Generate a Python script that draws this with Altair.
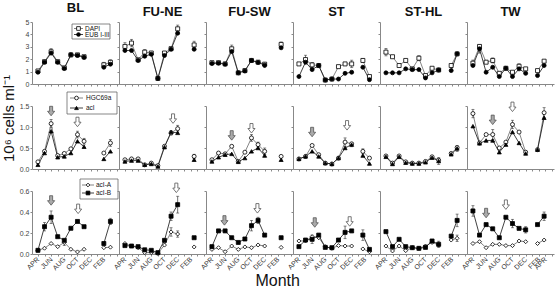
import altair as alt
import pandas as pd

SITES = ["BL", "FU-NE", "FU-SW", "ST", "ST-HL", "TW"]

# sampling month of each point (0 = April)
MONTHS = {
    "BL":    [0, 1, 2, 3, 4, 5, 6, 7, 10, 11],
    "FU-NE": [0, 1, 2, 3, 4, 5, 6, 7, 8, 10.5],
    "FU-SW": [0, 1, 2, 3, 4, 5, 6, 7, 8, 10.5],
    "ST":    [0, 1, 2, 3, 4, 5, 6, 7, 8, 9.7, 10.7],
    "ST-HL": [0, 1, 2, 3, 4, 5, 6, 7, 8, 9.9, 10.8],
    "TW":    [0, 1, 2, 3, 4, 5, 6, 7, 8, 9.8, 10.8],
}
# index of the first point after the winter gap
GAP_AT = {"BL": 8, "FU-NE": 9, "FU-SW": 9, "ST": 9, "ST-HL": 9, "TW": 9}

DAPI = {
    "BL":    [1.05, 1.8, 2.6, 1.8, 1.3, 2.35, 2.35, 2.2, 1.55, 1.75],
    "FU-NE": [3.03, 3.3, 1.95, 2.57, 2.5, 0.45, 2.5, 2.85, 4.45, 3.15],
    "FU-SW": [1.72, 1.72, 1.62, 2.84, 0.9, 1.08, 1.9, 1.76, 1.6, 3.19],
    "ST":    [1.62, 1.97, 1.54, 1.49, 0.32, 0.4, 1.4, 1.62, 1.62, 1.9, 0.6],
    "ST-HL": [2.57, 2.2, 1.49, 1.9, 1.22, 2.08, 0.68, 1.27, 1.13, 1.49, 2.43],
    "TW":    [1.68, 3.03, 1.76, 1.9, 0.86, 1.27, 0.95, 1.43, 1.22, 1.08, 1.84],
}
EUB = {
    "BL":    [0.95, 1.75, 2.5, 1.75, 1.25, 2.35, 2.3, 2.15, 1.35, 1.6],
    "FU-NE": [2.7, 2.7, 1.9, 2.24, 2.4, 0.45, 2.3, 2.8, 4.1, 2.8],
    "FU-SW": [1.65, 1.68, 1.6, 2.62, 0.9, 1.05, 1.9, 1.74, 1.52, 2.92],
    "ST":    [0.6, 1.76, 1.16, 1.49, 0.32, 0.4, 0.4, 0.86, 0.95, 1.35, 0.35],
    "ST-HL": [0.9, 0.9, 0.9, 1.22, 1.16, 1.16, 0.49, 0.9, 1.13, 1.08, 2.43],
    "TW":    [1.49, 2.84, 0.95, 1.35, 0.6, 1.27, 0.6, 1.22, 0.86, 0.68, 1.49],
}
HGC69A = {
    "BL":    [0.17, 0.42, 1.08, 0.32, 0.37, 0.48, 0.82, 0.66, 0.38, 0.62],
    "FU-NE": [0.22, 0.24, 0.24, 0.10, 0.14, 0.08, 0.54, 0.86, 0.96, 0.30],
    "FU-SW": [0.22, 0.38, 0.36, 0.54, 0.18, 0.40, 0.74, 0.58, 0.42, 0.30],
    "ST":    [0.24, 0.30, 0.56, 0.34, 0.14, 0.12, 0.26, 0.64, 0.60, 0.42, 0.26],
    "ST-HL": [0.31, 0.14, 0.31, 0.17, 0.14, 0.14, 0.18, 0.29, 0.21, 0.37, 0.51],
    "TW":    [1.32, 0.62, 0.82, 0.82, 0.50, 0.64, 1.06, 0.88, 0.40, 0.46, 1.34],
}
ACI = {
    "BL":    [0.10, 0.38, 0.90, 0.28, 0.30, 0.38, 0.66, 0.53, 0.24, 0.42],
    "FU-NE": [0.18, 0.20, 0.20, 0.10, 0.12, 0.06, 0.52, 0.88, 0.86, 0.22],
    "FU-SW": [0.18, 0.28, 0.34, 0.36, 0.17, 0.26, 0.42, 0.50, 0.32, 0.22],
    "ST":    [0.24, 0.30, 0.42, 0.30, 0.14, 0.12, 0.26, 0.50, 0.58, 0.32, 0.13],
    "ST-HL": [0.29, 0.12, 0.29, 0.15, 0.13, 0.13, 0.16, 0.27, 0.19, 0.35, 0.49],
    "TW":    [1.02, 0.61, 0.68, 0.68, 0.40, 0.58, 0.88, 0.62, 0.37, 0.46, 1.22],
}
ACI_A = {
    "BL":    [0.035, 0.055, 0.10, 0.07, 0.11, 0.045, 0.02, 0.045, 0.06, 0.065],
    "FU-NE": [0.10, 0.076, 0.06, 0.013, 0.013, 0.006, 0.085, 0.21, 0.19, 0.067],
    "FU-SW": [0.044, 0.06, 0.022, 0.076, 0.044, 0.067, 0.06, 0.086, 0.076, 0.063],
    "ST":    [0.124, 0.124, 0.165, 0.155, 0.07, 0.054, 0.08, 0.076, 0.076, 0.048, 0.022],
    "ST-HL": [0.076, 0.029, 0.076, 0.032, 0.06, 0.054, 0.076, 0.11, 0.086, 0.133, 0.15],
    "TW":    [0.10, 0.117, 0.06, 0.092, 0.092, 0.08, 0.08, 0.124, 0.117, 0.10, 0.133],
}
ACI_B = {
    "BL":    [0.035, 0.26, 0.35, 0.165, 0.13, 0.245, 0.31, 0.26, 0.10, 0.31],
    "FU-NE": [0.08, 0.076, 0.07, 0.04, 0.035, 0.013, 0.13, 0.36, 0.47, 0.155],
    "FU-SW": [0.07, 0.22, 0.22, 0.155, 0.11, 0.143, 0.27, 0.32, 0.18, 0.155],
    "ST":    [0.07, 0.133, 0.14, 0.18, 0.063, 0.06, 0.133, 0.206, 0.22, 0.18, 0.044],
    "ST-HL": [0.213, 0.07, 0.14, 0.07, 0.06, 0.054, 0.063, 0.124, 0.092, 0.17, 0.32],
    "TW":    [0.41, 0.18, 0.28, 0.24, 0.155, 0.35, 0.29, 0.244, 0.23, 0.28, 0.36],
}

# visible error bars: (row, site, series 0=open/1=filled, point index, error)
ERRORS = [
    (0, "BL", 0, 0, 0.12), (0, "BL", 0, 2, 0.25), (0, "BL", 0, 5, 0.15), (0, "BL", 1, 7, 0.15),
    (0, "BL", 0, 8, 0.2), (0, "BL", 0, 9, 0.2),
    (0, "FU-NE", 0, 0, 0.3), (0, "FU-NE", 0, 1, 0.3), (0, "FU-NE", 0, 3, 0.2), (0, "FU-NE", 0, 8, 0.3),
    (0, "FU-NE", 0, 9, 0.3),
    (0, "FU-SW", 0, 3, 0.3), (0, "FU-SW", 1, 8, 0.2), (0, "FU-SW", 0, 9, 0.2),
    (0, "ST", 0, 1, 0.35), (0, "ST", 0, 2, 0.2), (0, "ST", 0, 8, 0.3), (0, "ST", 0, 9, 0.15),
    (0, "ST-HL", 0, 0, 0.3), (0, "ST-HL", 0, 5, 0.2),
    (0, "TW", 1, 1, 0.35), (0, "TW", 0, 0, 0.25), (0, "TW", 0, 3, 0.2), (0, "TW", 0, 7, 0.2),
    (1, "BL", 0, 2, 0.1), (1, "BL", 0, 6, 0.08), (1, "BL", 0, 7, 0.07), (1, "BL", 0, 9, 0.08),
    (1, "FU-NE", 0, 8, 0.08), (1, "FU-NE", 0, 7, 0.05), (1, "FU-NE", 0, 9, 0.05),
    (1, "FU-SW", 0, 6, 0.08), (1, "FU-SW", 0, 8, 0.08), (1, "FU-SW", 0, 7, 0.06),
    (1, "ST", 0, 7, 0.1), (1, "ST", 1, 8, 0.05), (1, "ST", 0, 9, 0.06),
    (1, "ST-HL", 1, 8, 0.08), (1, "ST-HL", 1, 10, 0.07),
    (1, "TW", 0, 0, 0.1), (1, "TW", 0, 3, 0.12), (1, "TW", 0, 10, 0.12), (1, "TW", 0, 6, 0.1),
    (2, "BL", 1, 2, 0.06), (2, "BL", 1, 1, 0.04), (2, "BL", 1, 9, 0.03), (2, "BL", 0, 4, 0.03),
    (2, "FU-NE", 1, 8, 0.08), (2, "FU-NE", 1, 7, 0.04), (2, "FU-NE", 0, 7, 0.04), (2, "FU-NE", 0, 8, 0.03),
    (2, "FU-SW", 1, 6, 0.05), (2, "FU-SW", 1, 7, 0.03),
    (2, "ST", 1, 2, 0.04), (2, "ST", 1, 7, 0.06), (2, "ST", 1, 9, 0.05),
    (2, "ST-HL", 1, 10, 0.06), (2, "ST-HL", 1, 8, 0.03), (2, "ST-HL", 0, 10, 0.03),
    (2, "TW", 1, 0, 0.05), (2, "TW", 1, 6, 0.04), (2, "TW", 1, 10, 0.04), (2, "TW", 1, 8, 0.03),
]

# arrows marking peaks: (row, site, month, value, style)
ARROWS = [
    (1, "BL", 2, 1.38, "gray"), (1, "BL", 6, 1.12, "open"),
    (1, "FU-NE", 7.3, 1.2, "open"),
    (1, "FU-SW", 3, 0.8, "gray"), (1, "FU-SW", 6, 0.97, "open"),
    (1, "ST", 2, 0.88, "gray"), (1, "ST", 7.3, 1.04, "open"),
    (1, "TW", 3, 1.17, "gray"), (1, "TW", 6, 1.48, "open"),
    (2, "BL", 2, 0.51, "gray"), (2, "BL", 6.1, 0.43, "open"),
    (2, "FU-NE", 7.8, 0.63, "open"),
    (2, "FU-SW", 1.9, 0.32, "gray"), (2, "FU-SW", 6.9, 0.435, "open"),
    (2, "ST", 2.4, 0.30, "gray"), (2, "ST", 7.7, 0.31, "open"),
    (2, "TW", 2, 0.39, "gray"), (2, "TW", 5, 0.47, "open"),
]

TICK_MONTHS = [0, 2, 4, 6, 8, 10]
TICK_LABELS = ["APR", "JUN", "AUG", "OCT", "DEC", "FEB"]
TW_EXTRA_TICK = (11, "APR")

ROWS = [
    {"names": ["DAPI", "EUB I-III"], "vals": [DAPI, EUB], "shapes": ["square", "circle"],
     "domain": [0, 5], "ticks": [0, 1, 2, 3, 4, 5], "fmt": "d", "height": 62},
    {"names": ["HGC69a", "acI"], "vals": [HGC69A, ACI], "shapes": ["circle", "triangle-up"],
     "domain": [0, 1.5], "ticks": [0, 0.5, 1.0, 1.5], "fmt": ".1f", "height": 63},
    {"names": ["acI-A", "acI-B"], "vals": [ACI_A, ACI_B], "shapes": ["diamond", "square"],
     "domain": [0, 0.6], "ticks": [0, 0.2, 0.4, 0.6], "fmt": ".1f", "height": 63},
]
# legend box layout inside the first column (pixels from the panel's top-left):
# box x0, x1, y0, y1, entry rows y, line x0, line x1, text x
LEGEND_BOX = [
    (40, 78, 2, 17, [6.5, 12.5], 42, 51, 53),
    (35, 85, -14, 8, [-8, 2], 38, 51, 54),
    (48, 86, -12, 8, [-6, 2], 50, 62, 64),
]

ARROW_PATH = "M-0.32,-1L0.32,-1L0.32,0.05L0.75,0.05L0,1L-0.75,0.05L-0.32,0.05Z"
FONT = "Liberation Sans"
PANEL_W = 87
ERR = {(r, s, k, i): e for r, s, k, i, e in ERRORS}


def legend_layers(r):
    spec = ROWS[r]
    bx0, bx1, by0, by1, rows_y, lx0, lx1, tx = LEGEND_BOX[r]
    one = alt.Chart(pd.DataFrame({"k": [0]}))
    out = [one.mark_rect(fill="white", stroke="#555", strokeWidth=0.7).encode(
        x=alt.value(bx0), x2=alt.value(bx1), y=alt.value(by0), y2=alt.value(by1))]
    strokes = ["#666", "#111"]
    fills = ["white", "black"]
    for k in range(2):
        yy = rows_y[k]
        out.append(one.mark_rule(strokeWidth=0.8, color=strokes[k]).encode(
            x=alt.value(lx0), x2=alt.value(lx1), y=alt.value(yy)))
        out.append(one.mark_point(shape=spec["shapes"][k], size=14, filled=True, fill=fills[k],
                                  stroke="black", strokeWidth=0.8, opacity=1).encode(
            x=alt.value((lx0 + lx1) / 2), y=alt.value(yy)))
        out.append(one.mark_text(align="left", baseline="middle", fontSize=6.5, font=FONT).encode(
            x=alt.value(tx), y=alt.value(yy), text=alt.value(spec["names"][k]),
            color=alt.value("#111")))
    return out


def make_panel(r, c):
    site = SITES[c]
    spec = ROWS[r]
    names = spec["names"]
    recs = []
    for k in range(2):
        for i, (m, v) in enumerate(zip(MONTHS[site], spec["vals"][k][site])):
            e = ERR.get((r, site, k, i), 0.0)
            recs.append({"month": m, "value": v, "series": names[k],
                         "seg": f"{k}-{int(i >= GAP_AT[site])}",
                         "lo": v - e, "hi": v + e, "err": e})
    df = pd.DataFrame(recs)

    labmap = dict(zip(TICK_MONTHS, TICK_LABELS))
    if site == "TW":
        labmap[TW_EXTRA_TICK[0]] = TW_EXTRA_TICK[1]
    arr = "[" + ",".join("'" + labmap.get(i, "") + "'" for i in range(13)) + "]"
    xaxis = alt.Axis(values=list(range(13)), labels=(r == 2), labelExpr=arr + "[datum.value]",
                     labelAngle=-45, labelAlign="right", labelBaseline="middle",
                     labelFontSize=7, labelColor="#333", labelPadding=2,
                     labelOverlap=False, labelBound=False, labelFlush=False,
                     tickSize=2, tickColor="#888", domainColor="#888", grid=False, title=None)
    ytitle = "10\u2076 cells ml\u207b\u00b9" if (r == 1 and c == 0) else None
    yaxis = alt.Axis(values=spec["ticks"], format=spec["fmt"], labels=(c == 0),
                     labelFontSize=7, labelColor="#444", labelPadding=1,
                     tickSize=2, tickColor="#888", domainColor="#888", grid=False,
                     title=ytitle, titleFontSize=15, titleFontWeight="normal",
                     titleColor="#111", titleY=12, titlePadding=3)
    xs = alt.Scale(domain=[-0.9, 12.3], nice=False, zero=False)
    ys = alt.Scale(domain=spec["domain"], nice=False, zero=False)
    x = alt.X("month:Q", scale=xs, axis=xaxis)

    base = alt.Chart(df)
    lines = base.mark_line(strokeWidth=0.8).encode(
        x=x, y=alt.Y("value:Q", scale=ys, axis=yaxis), detail="seg:N",
        stroke=alt.Stroke("series:N", scale=alt.Scale(domain=names, range=["#666", "#111"]), legend=None))
    ebase = base.transform_filter("datum.err > 0")
    errs = ebase.mark_rule(strokeWidth=0.7, color="#333").encode(
        x=x, y=alt.Y("lo:Q", scale=ys, axis=yaxis), y2="hi:Q")
    cap_hi = ebase.mark_tick(orient="horizontal", size=3, thickness=0.8, color="#333").encode(
        x=x, y=alt.Y("hi:Q", scale=ys, axis=yaxis))
    cap_lo = ebase.mark_tick(orient="horizontal", size=3, thickness=0.8, color="#333").encode(
        x=x, y=alt.Y("lo:Q", scale=ys, axis=yaxis))

    pts = base.mark_point(filled=True, size=16, opacity=1, stroke="black", strokeWidth=0.8).encode(
        x=x, y=alt.Y("value:Q", scale=ys, axis=yaxis),
        shape=alt.Shape("series:N", scale=alt.Scale(domain=names, range=spec["shapes"]), legend=None),
        fill=alt.Fill("series:N", scale=alt.Scale(domain=names, range=["white", "black"]), legend=None))

    layers = [lines, errs, cap_hi, cap_lo, pts]
    for style, fillc in (("gray", "#aaa"), ("open", "white")):
        a = [{"month": m, "value": v} for rr, s, m, v, st in ARROWS if rr == r and s == site and st == style]
        if a:
            layers.append(alt.Chart(pd.DataFrame(a)).mark_point(
                shape=ARROW_PATH, size=90, filled=True, fill=fillc, stroke="#555",
                strokeWidth=0.8, opacity=1).encode(x=x, y=alt.Y("value:Q", scale=ys, axis=yaxis)))
    if c == 0:
        layers += legend_layers(r)

    props = {"width": PANEL_W, "height": spec["height"]}
    if r == 0:
        props["title"] = alt.TitleParams(site, fontSize=13, fontWeight="bold", font=FONT,
                                         anchor="middle", offset=3, color="#111")
    return alt.layer(*layers).properties(**props)


panels = [make_panel(r, c) for r in range(3) for c in range(6)]

chart = alt.ConcatChart(
    concat=panels, columns=6, spacing={"row": 22, "column": 0}, bounds="flush",
    title=alt.TitleParams("Month", orient="bottom", anchor="middle", fontSize=16,
                          fontWeight="normal", font=FONT, offset=2, color="#111"),
).resolve_scale(
    x="independent", y="independent", shape="independent", fill="independent", stroke="independent"
).configure_view(stroke=None).configure_axis(
    labelFont=FONT, titleFont=FONT
).properties(padding={"left": 1, "top": 2, "right": 2, "bottom": 1}, background="white")

chart.save("out.html", embed_options={"renderer": "svg", "actions": False})
